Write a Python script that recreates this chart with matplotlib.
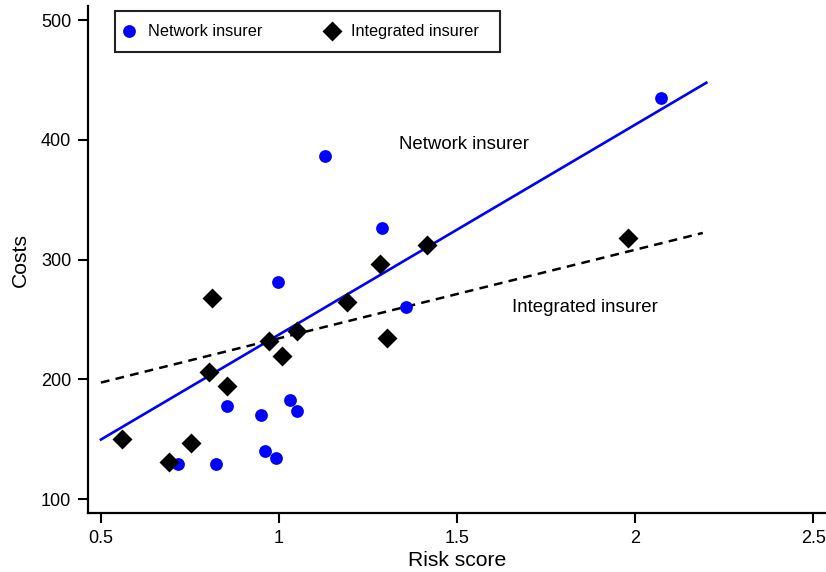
import matplotlib
matplotlib.use("Agg")
import matplotlib.pyplot as plt
from matplotlib.patches import Rectangle
import numpy as np

plt.rcParams['font.family'] = ['Liberation Sans', 'DejaVu Sans']

# Network insurer (blue circles)
net_risk = [2.073, 1.129, 1.289, 0.997, 1.357, 0.854, 0.949, 1.031, 1.051, 0.961, 0.992, 0.716, 0.823]
net_cost = [435.0, 386.7, 326.7, 281.7, 260.8, 177.5, 170.0, 182.5, 173.3, 140.0, 134.2, 129.2, 129.2]

# Integrated insurer (black diamonds)
int_risk = [0.812, 0.804, 0.853, 0.973, 1.008, 1.051, 1.190, 1.302, 0.559, 0.752, 0.692, 1.284, 1.415, 1.979]
int_cost = [268.1, 205.8, 194.7, 231.9, 219.7, 240.3, 264.2, 234.2, 150.3, 146.9, 130.8, 296.4, 312.2, 317.8]

# Fitted lines (endpoints)
net_fit_x = [0.5, 2.2]
net_fit_y = [149.7, 447.8]
int_fit_x = [0.5, 2.19]
int_fit_y = [197.3, 322.3]

x_ticks = [0.5, 1, 1.5, 2, 2.5]
x_tick_labels = ["0.5", "1", "1.5", "2", "2.5"]
y_ticks = [100, 200, 300, 400, 500]

fig = plt.figure(figsize=(8.26, 5.72), dpi=100)
ax = fig.add_axes([0.1065, 0.1031, 0.8935, 0.886])

ax.plot(net_fit_x, net_fit_y, color='#0000ff', lw=1.9, zorder=2)
ax.plot(int_fit_x, int_fit_y, color='black', lw=1.8, ls=(0, (3.5, 2.5)), zorder=2)

ax.plot(net_risk, net_cost, 'o', color='#0000ff', ms=9.2, mec='none', ls='none',
        label='Network insurer', zorder=3)
ax.plot(int_risk, int_cost, 'D', color='black', ms=10.3, mec='none', ls='none',
        label='Integrated insurer', zorder=4)

ax.text(1.337, 395.8, 'Network insurer', fontsize=13.4, va='center', ha='left')
ax.text(1.654, 260.0, 'Integrated insurer', fontsize=13.4, va='center', ha='left')

ax.set_xlim(0.4635, 2.536)
ax.set_ylim(88.3, 511.7)
ax.set_xticks(x_ticks)
ax.set_xticklabels(x_tick_labels)
ax.set_yticks(y_ticks)
ax.tick_params(direction='out', length=7, width=1.5, labelsize=13, colors='black', pad=5)
for s in ['top', 'right']:
    ax.spines[s].set_visible(False)
for s in ['left', 'bottom']:
    ax.spines[s].set_linewidth(1.6)

ax.set_xlabel('Risk score', fontsize=15.2, labelpad=3)
ax.set_ylabel('Costs', fontsize=15.2, labelpad=8)

# legend box
ax.add_patch(Rectangle((0.0366, 0.909), 0.5217, 0.081, transform=ax.transAxes,
                       facecolor='white', edgecolor='#222222', lw=1.5, zorder=5,
                       clip_on=False))
leg = ax.legend(loc='center left', bbox_to_anchor=(0.0467, 0.9497), ncol=2, fontsize=11.7,
                frameon=False, handletextpad=0.75, columnspacing=3.9, borderpad=0,
                handlelength=0.8, markerscale=1.0, borderaxespad=0)
leg.set_zorder(6)

fig.savefig('out.png', dpi=100)
